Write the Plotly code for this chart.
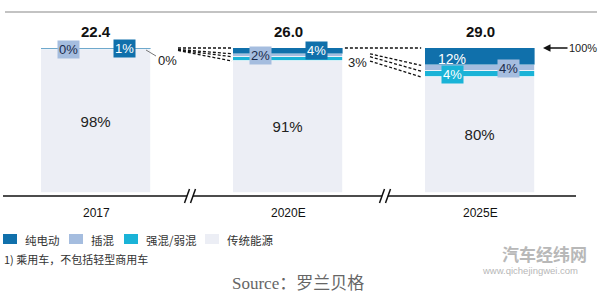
import plotly.graph_objects as go

# ---------------- data ----------------
categories = ["2017", "2020E", "2025E"]
totals = ["22.4", "26.0", "29.0"]
series_names = ["纯电动", "插混", "强混/弱混", "传统能源"]
bev = [1.0, 4, 12]
phev = [0.4, 2, 4]
hev = [0.3, 3, 4]
ice = [98.3, 91, 80]
bev_lbl = ["1%", "4%", "12%"]
phev_lbl = ["0%", "2%", "4%"]
hev_lbl = ["0%", "3%", "4%"]
ice_lbl = ["98%", "91%", "80%"]

# ---------------- style ----------------
C_BEV = "#1070ab"
C_PHEV = "#a5bddf"
C_HEV = "#1ab3d7"
C_ICE = "#eceef5"
FONT = "Liberation Sans, Arial, Noto Sans CJK SC"
W, H = 600, 298
SPACING = 192.0      # px between categories
PX0 = 96.0           # px of first category centre
BASE_PY = 193.0      # px of value 0
PPU = 1.45           # px per percent
BAR_W = 110 / SPACING

def X(px):
    return (px - PX0) / SPACING

def Y(py):
    return (BASE_PY - py) / PPU

def PX(px):
    return px / W

def PY(py):
    return 1 - py / H

xs = list(range(len(categories)))

fig = go.Figure()
for vals, col, name, txt, lw in [(ice, C_ICE, series_names[3], ice_lbl, 0.8),
                                 (hev, C_HEV, series_names[2], None, 0.8),
                                 (phev, C_PHEV, series_names[1], None, 0.8),
                                 (bev, C_BEV, series_names[0], None, 0.4)]:
    fig.add_trace(go.Bar(
        x=xs, y=vals, width=BAR_W, name=name,
        marker=dict(color=col, line=dict(color="white", width=lw)),
        text=txt, textposition="inside" if txt else "none",
        insidetextanchor="middle",
        textfont=dict(size=15, color="#222", family=FONT),
        showlegend=False, hoverinfo="skip"))

ann = []
shapes = []

# totals and category labels
for i in xs:
    ann.append(dict(x=i, y=Y(31), text="<b>%s</b>" % totals[i], showarrow=False,
                    font=dict(size=15, color="#111", family=FONT)))
    ann.append(dict(x=i, y=Y(213), text=categories[i], showarrow=False,
                    font=dict(size=12, color="#111", family=FONT)))

def seg_mid(i, which):
    lo = ice[i]
    if which == "hev":
        return lo + hev[i] / 2
    lo += hev[i]
    if which == "phev":
        return lo + phev[i] / 2
    lo += phev[i]
    return lo + bev[i] / 2

def box(x, y, text, bg, fc):
    ann.append(dict(x=x, y=y, text=text, showarrow=False, bgcolor=bg, borderpad=1,
                    font=dict(size=13, color=fc, family=FONT)))

OFF = 28 / SPACING
# 2017
box(0 - OFF, seg_mid(0, "phev"), phev_lbl[0], C_PHEV, "#1b2b4b")
box(0 + OFF, seg_mid(0, "bev"), bev_lbl[0], C_BEV, "white")
ann.append(dict(x=X(167), y=Y(60), text=hev_lbl[0], showarrow=False,
                font=dict(size=13, color="#222", family=FONT)))
shapes.append(dict(type="line", xref="x", yref="y", x0=X(146), y0=Y(50), x1=X(156), y1=Y(56),
                   line=dict(color="#777", width=1)))
# 2020
box(1 - OFF, seg_mid(1, "phev"), phev_lbl[1], C_PHEV, "#1b2b4b")
box(1 + OFF, seg_mid(1, "bev"), bev_lbl[1], C_BEV, "white")
ann.append(dict(x=1 + X(357) - X(288), y=Y(62), text=hev_lbl[1], showarrow=False,
                font=dict(size=13, color="#222", family=FONT)))
# 2025
ann.append(dict(x=2 - OFF, y=Y(59), text=bev_lbl[2], showarrow=False,
                font=dict(size=14, color="white", family=FONT)))
box(2 - OFF, seg_mid(2, "hev"), hev_lbl[2], C_HEV, "white")
box(2 + OFF, seg_mid(2, "phev"), phev_lbl[2], C_PHEV, "#1b2b4b")

# dashed connectors
def bounds(i):
    t = bev[i] + phev[i] + hev[i] + ice[i]
    return [t, t - bev[i], t - bev[i] - phev[i], ice[i]]

half = BAR_W / 2
b0, b1, b2 = bounds(0), bounds(1), bounds(2)
for k in range(4):
    shapes.append(dict(type="line", xref="x", yref="y", x0=X(178), y0=b0[k],
                       x1=1 - half - 0.005, y1=b1[k],
                       line=dict(color="#111", width=1.3, dash="3px,2px")))
shapes.append(dict(type="line", xref="x", yref="y", x0=1 + half + 0.01, y0=b1[0],
                   x1=2 - half - 0.02, y1=b2[0],
                   line=dict(color="#111", width=1.3, dash="3px,2px")))
for k in range(1, 4):
    shapes.append(dict(type="line", xref="x", yref="y", x0=1 + X(370) - X(288), y0=b1[k],
                       x1=2 - half - 0.02, y1=b2[k],
                       line=dict(color="#111", width=1.3, dash="3px,2px")))

# 100% arrow
ann.append(dict(x=2 + X(543) - X(480), y=100, text="100%", showarrow=True,
                ax=40, ay=0, arrowhead=2, arrowsize=1, arrowwidth=1.5, arrowcolor="#111",
                standoff=0, font=dict(size=11, color="#222", family=FONT)))

# top rule
shapes.append(dict(type="line", xref="paper", yref="paper", x0=PX(5), x1=PX(597),
                   y0=PY(12), y1=PY(12), line=dict(color="#888", width=1.2)))
# axis line with breaks
shapes.append(dict(type="line", xref="paper", yref="paper", x0=PX(3), x1=PX(576),
                   y0=PY(196), y1=PY(196), line=dict(color="#111", width=1.5)))
for bx in [190, 385]:
    shapes.append(dict(type="rect", xref="paper", yref="paper", x0=PX(bx - 3), x1=PX(bx + 3),
                       y0=PY(199), y1=PY(193), fillcolor="white", line=dict(width=0)))
    for dx in [-3, 3]:
        shapes.append(dict(type="line", xref="paper", yref="paper",
                           x0=PX(bx + dx - 2.5), y0=PY(203), x1=PX(bx + dx + 2.5), y1=PY(189),
                           line=dict(color="#111", width=1.5)))

# legend (manual)
leg_colors = [C_BEV, C_PHEV, C_HEV, C_ICE]
leg_x = [3, 69, 124, 205]
for name, col, lx in zip(series_names, leg_colors, leg_x):
    shapes.append(dict(type="rect", xref="paper", yref="paper", x0=PX(lx), x1=PX(lx + 14),
                       y0=PY(244), y1=PY(234), fillcolor=col, line=dict(width=0)))
    ann.append(dict(xref="paper", yref="paper", x=PX(lx + 20), y=PY(239.5), text=name,
                    showarrow=False, xanchor="left", yanchor="middle",
                    font=dict(size=11.5, color="#333", family="Noto Sans CJK SC")))
ann.append(dict(xref="paper", yref="paper", x=PX(2), y=PY(259), text="1) 乘用车，不包括轻型商用车",
                showarrow=False, xanchor="left", yanchor="middle",
                font=dict(size=11, color="#333", family="Noto Sans CJK SC")))

# source
ann.append(dict(xref="paper", yref="paper", x=PX(298), y=PY(283), text="Source：罗兰贝格",
                showarrow=False, xanchor="center", yanchor="middle",
                font=dict(size=17, color="#666", family="Liberation Serif, Noto Sans CJK SC")))
# watermark
ann.append(dict(xref="paper", yref="paper", x=PX(544), y=PY(253), text="<b>汽车经纬网</b>",
                showarrow=False, xanchor="center", yanchor="middle",
                font=dict(size=17, color="#b8b8b8", family="Noto Sans CJK SC")))
ann.append(dict(xref="paper", yref="paper", x=PX(530), y=PY(270), text="www.qichejingwei.com",
                showarrow=False, xanchor="center", yanchor="middle",
                font=dict(size=9.5, color="#b8b8b8", family=FONT)))

fig.update_layout(
    width=W, height=H, margin=dict(l=0, r=0, t=0, b=0),
    paper_bgcolor="white", plot_bgcolor="white",
    barmode="stack", bargap=0,
    xaxis=dict(range=[X(0), X(W)], visible=False, fixedrange=True),
    yaxis=dict(range=[Y(H), Y(0)], visible=False, fixedrange=True),
    annotations=ann, shapes=shapes, showlegend=False,
)
fig.write_html("out.html")
